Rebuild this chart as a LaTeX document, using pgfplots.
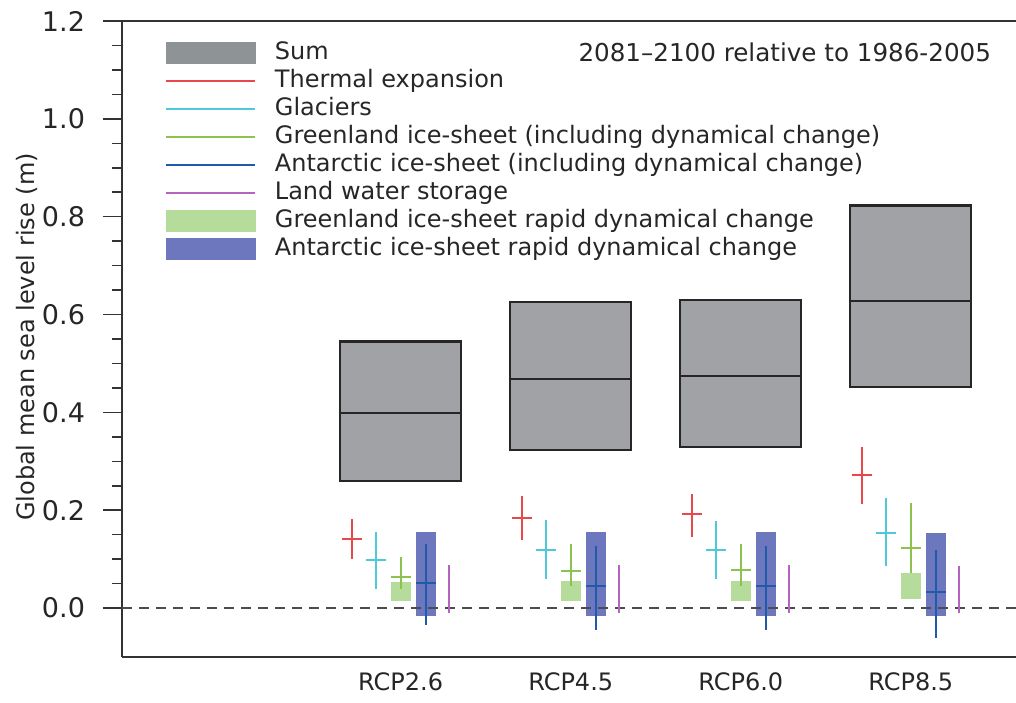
\documentclass[border=0pt]{standalone}
\usepackage{fontspec}
\setmainfont{DejaVu Sans}
\usepackage{pgfplots}
\usepackage{pgfplotstable}
\pgfplotsset{compat=1.18}

\definecolor{sumgray}{RGB}{161,162,166}
\definecolor{sumleg}{RGB}{142,148,150}
\definecolor{thermred}{RGB}{232,71,75}
\definecolor{glaccyan}{RGB}{79,200,216}
\definecolor{greenl}{RGB}{140,195,80}
\definecolor{antblue}{RGB}{31,91,170}
\definecolor{landpurp}{RGB}{180,100,190}
\definecolor{greenbox}{RGB}{181,220,155}
\definecolor{bluebox}{RGB}{108,119,190}

% x = position, mid = median, lo/hi = likely range
\pgfplotstableread{
x mid lo hi
0.714 0.141 0.100 0.182
1.714 0.184 0.139 0.229
2.714 0.192 0.146 0.233
3.714 0.272 0.212 0.329
}\thermal
\pgfplotstableread{
x mid lo hi
0.857 0.099 0.040 0.155
1.857 0.119 0.059 0.180
2.857 0.119 0.059 0.178
3.857 0.153 0.087 0.225
}\glaciers
\pgfplotstableread{
x mid lo hi
1 0.064 0.038 0.104
2 0.076 0.045 0.132
3 0.078 0.045 0.132
4 0.122 0.071 0.214
}\greenland
\pgfplotstableread{
x mid lo hi
1.147 0.051 -0.035 0.132
2.147 0.045 -0.044 0.127
3.147 0.045 -0.044 0.127
4.147 0.032 -0.061 0.119
}\antarctic
\pgfplotstableread{
x mid lo hi
1.286 0.040 -0.011 0.088
2.286 0.040 -0.011 0.088
3.286 0.040 -0.011 0.088
4.286 0.040 -0.010 0.087
}\landwater

\tikzset{bigfont/.style={font=\fontsize{12}{14}\selectfont}}

\begin{document}
\begin{tikzpicture}
\begin{axis}[
  name=ax,
  scale only axis,
  width=447pt, height=318pt,
  xmin=-0.639, xmax=4.619,
  ymin=-0.1, ymax=1.2,
  axis x line=box,
  axis y line=left,
  axis line style={-, line width=0.9pt, black!80},
  xtick={1,2,3,4},
  xticklabels={RCP2.6,RCP4.5,RCP6.0,RCP8.5},
  x tick style={draw=none},
  xticklabel style={bigfont, yshift=5pt, text=black!85},
  ytick={0,0.2,0.4,0.6,0.8,1.0,1.2},
  minor y tick num=3,
  tick align=outside,
  major tick length=9.5pt,
  minor tick length=5pt,
  y tick style={line width=0.8pt, black!80},
  yticklabel style={font=\fontsize{13.5}{15}\selectfont, xshift=-5.5pt, text=black!85, /pgf/number format/fixed, /pgf/number format/fixed zerofill, /pgf/number format/precision=1, /pgf/number format/assume math mode=true},
  ylabel={Global mean sea level rise (m)},
  ylabel style={bigfont, text=black!85, at={(axis description cs:-0.106,0.503)}, anchor=center},
  legend cell align=left,
  legend style={at={(0.048,0.972)}, anchor=north west, draw=none, fill=none,
    bigfont, text=black!85, inner sep=0pt, row sep=0pt, column sep=9.5pt,
    nodes={inner sep=0pt, text height=10pt, text depth=4pt, anchor=west}},
]
% legend images
\addlegendimage{legend image code/.code={\fill[sumleg] (0pt,-5.25pt) rectangle (44.5pt,5.25pt);}}
\addlegendentry{Sum}
\addlegendimage{legend image code/.code={\draw[thermred, line width=0.8pt] (0pt,0pt) -- (44.5pt,0pt);}}
\addlegendentry{Thermal expansion}
\addlegendimage{legend image code/.code={\draw[glaccyan, line width=0.8pt] (0pt,0pt) -- (44.5pt,0pt);}}
\addlegendentry{Glaciers}
\addlegendimage{legend image code/.code={\draw[greenl, line width=0.8pt] (0pt,0pt) -- (44.5pt,0pt);}}
\addlegendentry{Greenland ice-sheet (including dynamical change)}
\addlegendimage{legend image code/.code={\draw[antblue, line width=0.8pt] (0pt,0pt) -- (44.5pt,0pt);}}
\addlegendentry{Antarctic ice-sheet (including dynamical change)}
\addlegendimage{legend image code/.code={\draw[landpurp, line width=0.8pt] (0pt,0pt) -- (44.5pt,0pt);}}
\addlegendentry{Land water storage}
\addlegendimage{legend image code/.code={\fill[greenbox] (0pt,-5.25pt) rectangle (44.5pt,5.25pt);}}
\addlegendentry{Greenland ice-sheet rapid dynamical change}
\addlegendimage{legend image code/.code={\fill[bluebox] (0pt,-5.25pt) rectangle (44.5pt,5.25pt);}}
\addlegendentry{Antarctic ice-sheet rapid dynamical change}

% Sum boxes
\addplot[forget plot, fill=sumgray, draw=black!85, line width=1.1pt] coordinates {(0.644,0.259) (1.356,0.259) (1.356,0.545) (0.644,0.545)} -- cycle;
\addplot[forget plot, fill=sumgray, draw=black!85, line width=1.1pt] coordinates {(1.644,0.323) (2.356,0.323) (2.356,0.626) (1.644,0.626)} -- cycle;
\addplot[forget plot, fill=sumgray, draw=black!85, line width=1.1pt] coordinates {(2.644,0.330) (3.356,0.330) (3.356,0.630) (2.644,0.630)} -- cycle;
\addplot[forget plot, fill=sumgray, draw=black!85, line width=1.1pt] coordinates {(3.644,0.452) (4.356,0.452) (4.356,0.823) (3.644,0.823)} -- cycle;
\addplot[forget plot, black!85, line width=1pt] coordinates {(0.644,0.399) (1.356,0.399)};
\addplot[forget plot, black!85, line width=1pt] coordinates {(1.644,0.469) (2.356,0.469)};
\addplot[forget plot, black!85, line width=1pt] coordinates {(2.644,0.475) (3.356,0.475)};
\addplot[forget plot, black!85, line width=1pt] coordinates {(3.644,0.628) (4.356,0.628)};

% Greenland rapid dynamical change boxes
\addplot[forget plot, fill=greenbox, draw=none] coordinates {(0.941,0.015) (1.059,0.015) (1.059,0.054) (0.941,0.054)} -- cycle;
\addplot[forget plot, fill=greenbox, draw=none] coordinates {(1.941,0.015) (2.059,0.015) (2.059,0.055) (1.941,0.055)} -- cycle;
\addplot[forget plot, fill=greenbox, draw=none] coordinates {(2.941,0.015) (3.059,0.015) (3.059,0.055) (2.941,0.055)} -- cycle;
\addplot[forget plot, fill=greenbox, draw=none] coordinates {(3.941,0.018) (4.059,0.018) (4.059,0.071) (3.941,0.071)} -- cycle;

% Antarctic rapid dynamical change boxes
\addplot[forget plot, fill=bluebox, draw=none] coordinates {(1.088,-0.016) (1.206,-0.016) (1.206,0.155) (1.088,0.155)} -- cycle;
\addplot[forget plot, fill=bluebox, draw=none] coordinates {(2.088,-0.016) (2.206,-0.016) (2.206,0.155) (2.088,0.155)} -- cycle;
\addplot[forget plot, fill=bluebox, draw=none] coordinates {(3.088,-0.016) (3.206,-0.016) (3.206,0.155) (3.088,0.155)} -- cycle;
\addplot[forget plot, fill=bluebox, draw=none] coordinates {(4.088,-0.016) (4.206,-0.016) (4.206,0.153) (4.088,0.153)} -- cycle;

% zero line
\addplot[forget plot, black!70, line width=1.2pt, dash pattern=on 5pt off 3.5pt] coordinates {(-0.639,0) (4.619,0)};

% components
\addplot[forget plot, only marks, mark=-, mark size=5pt, mark options={thermred, line width=1pt},
  error bars/.cd, y dir=both, y explicit, error mark=none, error bar style={thermred, line width=1pt}]
  table[x=x, y=mid, y error plus expr=\thisrow{hi}-\thisrow{mid}, y error minus expr=\thisrow{mid}-\thisrow{lo}] {\thermal};
\addplot[forget plot, only marks, mark=-, mark size=5pt, mark options={glaccyan, line width=1pt},
  error bars/.cd, y dir=both, y explicit, error mark=none, error bar style={glaccyan, line width=1pt}]
  table[x=x, y=mid, y error plus expr=\thisrow{hi}-\thisrow{mid}, y error minus expr=\thisrow{mid}-\thisrow{lo}] {\glaciers};
\addplot[forget plot, only marks, mark=-, mark size=5pt, mark options={greenl, line width=1pt},
  error bars/.cd, y dir=both, y explicit, error mark=none, error bar style={greenl, line width=1pt}]
  table[x=x, y=mid, y error plus expr=\thisrow{hi}-\thisrow{mid}, y error minus expr=\thisrow{mid}-\thisrow{lo}] {\greenland};
\addplot[forget plot, only marks, mark=-, mark size=5pt, mark options={antblue, line width=1pt},
  error bars/.cd, y dir=both, y explicit, error mark=none, error bar style={antblue, line width=1pt}]
  table[x=x, y=mid, y error plus expr=\thisrow{hi}-\thisrow{mid}, y error minus expr=\thisrow{mid}-\thisrow{lo}] {\antarctic};
\addplot[forget plot, only marks, mark=-, mark size=0pt, mark options={draw=none},
  error bars/.cd, y dir=both, y explicit, error mark=none, error bar style={landpurp, line width=1pt}]
  table[x=x, y=mid, y error plus expr=\thisrow{hi}-\thisrow{mid}, y error minus expr=\thisrow{mid}-\thisrow{lo}] {\landwater};

\node[anchor=east, font=\fontsize{12.3}{14}\selectfont, text=black!85] at (axis description cs:0.98,0.951) {2081–2100 relative to 1986-2005};
\end{axis}
\pgfresetboundingbox
\path[use as bounding box] ([xshift=-61pt,yshift=-22.5pt]ax.south west) rectangle ([yshift=10.5pt]ax.north east);
\end{tikzpicture}
\end{document}
